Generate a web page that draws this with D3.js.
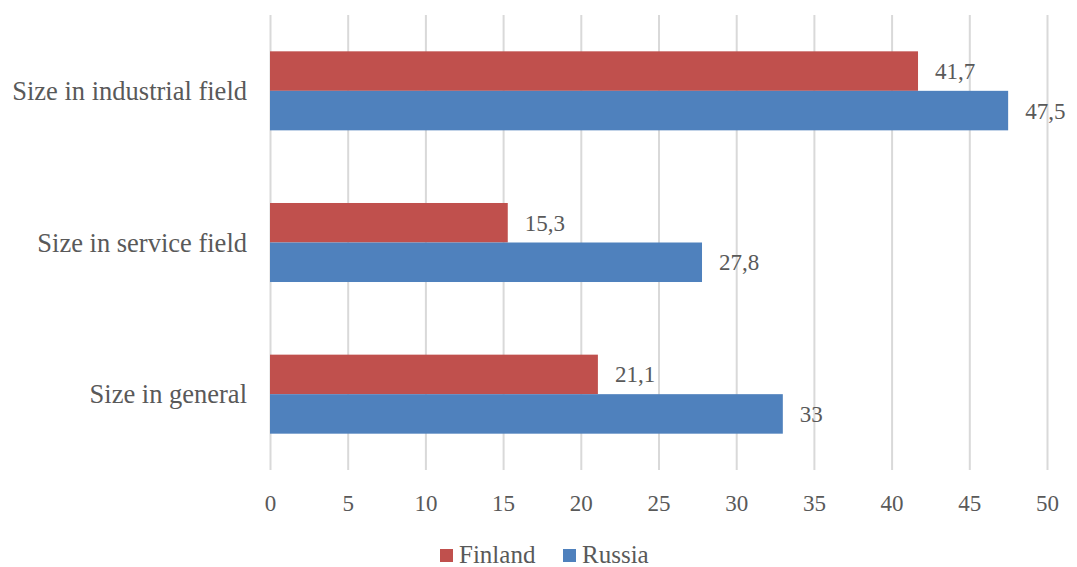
<!DOCTYPE html>
<html>
<head>
<meta charset="utf-8">
<script src="https://cdn.jsdelivr.net/npm/d3@7"></script>
<style>
  body { margin: 0; background: #fff; overflow: hidden; }
  svg { display: block; }
</style>
</head>
<body>
<svg id="vis"></svg>
<script>
const WIDTH = 1077;
const HEIGHT = 567;

// datos
const categorias = ["Size in industrial field", "Size in service field", "Size in general"];
const series = ["Finland", "Russia"];
const finland = [41.7, 15.3, 21.1];
const russia = [47.5, 27.8, 33];
const ticks = [0, 5, 10, 15, 20, 25, 30, 35, 40, 45, 50];

const COLORS = ["#C0504D", "#4F81BD"];
const TEXTO = "#595959";

const MARGIN = { top: 15, bottom: 97, left: 270, right: 30 };
const WIDTHVIS = WIDTH - MARGIN.left - MARGIN.right;
const HEIGHTVIS = HEIGHT - MARGIN.top - MARGIN.bottom;

const svg = d3.select("#vis").attr("width", WIDTH).attr("height", HEIGHT);
const contenedor = svg.append("g").attr("transform", `translate(${MARGIN.left} ${MARGIN.top})`);

const escalaX = d3.scaleLinear().domain([0, 50]).range([0, WIDTHVIS]);
const escalaY = d3.scaleBand().domain(categorias).range([0, HEIGHTVIS])
  .paddingInner(0.479).paddingOuter(0.2395);
const escalaSerie = d3.scaleBand().domain(series).range([0, escalaY.bandwidth()]);

// grilla
const ejeX = d3.axisBottom(escalaX).tickValues(ticks).tickSize(-HEIGHTVIS).tickPadding(25)
  .tickFormat(d3.format("d"));
const gx = contenedor.append("g").attr("transform", `translate(0, ${HEIGHTVIS})`).call(ejeX);
gx.select(".domain").remove();
gx.selectAll(".tick line").attr("stroke", "#d9d9d9").attr("stroke-width", 2);
gx.selectAll(".tick text").attr("fill", TEXTO).attr("font-family", "Liberation Serif")
  .attr("font-size", "23px");

// etiquetas de categorías
contenedor.selectAll(".cat")
  .data(categorias)
  .join("text")
  .attr("class", "cat")
  .attr("x", -23)
  .attr("y", (d) => escalaY(d) + escalaY.bandwidth() / 2)
  .attr("dy", "0.35em")
  .attr("text-anchor", "end")
  .attr("fill", TEXTO)
  .attr("font-family", "Liberation Serif")
  .attr("font-size", "26.5px")
  .text((d) => d);

// barras
const filas = [];
categorias.forEach((c, i) => {
  filas.push({ cat: c, serie: "Finland", valor: finland[i] });
  filas.push({ cat: c, serie: "Russia", valor: russia[i] });
});

contenedor.selectAll(".bar")
  .data(filas)
  .join("rect")
  .attr("class", "bar")
  .attr("x", escalaX(0))
  .attr("y", (d) => escalaY(d.cat) + escalaSerie(d.serie))
  .attr("width", (d) => escalaX(d.valor) - escalaX(0))
  .attr("height", escalaSerie.bandwidth())
  .attr("fill", (d) => COLORS[series.indexOf(d.serie)]);

contenedor.selectAll(".label")
  .data(filas)
  .join("text")
  .attr("class", "label")
  .attr("x", (d) => escalaX(d.valor) + 17)
  .attr("y", (d) => escalaY(d.cat) + escalaSerie(d.serie) + escalaSerie.bandwidth() / 2)
  .attr("dy", "0.35em")
  .attr("fill", TEXTO)
  .attr("font-family", "Liberation Serif")
  .attr("font-size", "23px")
  .text((d) => String(d.valor).replace(".", ","));

// leyenda
const leyenda = svg.append("g").attr("transform", "translate(440, 549)");
const posLeyenda = [0, 123];
leyenda.selectAll("rect")
  .data(series)
  .join("rect")
  .attr("x", (_, i) => posLeyenda[i])
  .attr("y", 0)
  .attr("width", 13)
  .attr("height", 13)
  .attr("fill", (_, i) => COLORS[i]);
leyenda.selectAll("text")
  .data(series)
  .join("text")
  .attr("x", (_, i) => posLeyenda[i] + 19)
  .attr("y", 14)
  .attr("fill", TEXTO)
  .attr("font-family", "Liberation Serif")
  .attr("font-size", "25px")
  .text((d) => d);
</script>
</body>
</html>
